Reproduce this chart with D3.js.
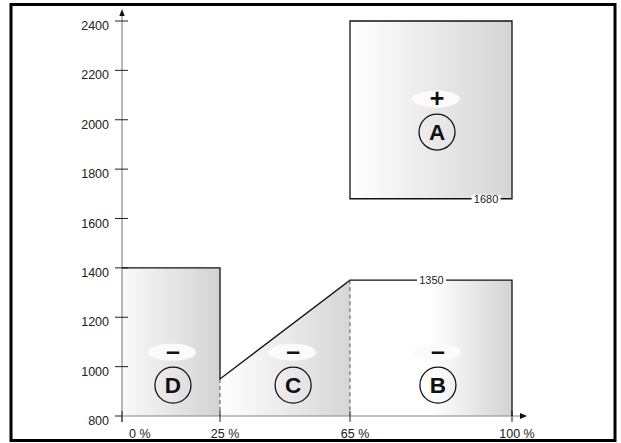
<!DOCTYPE html>
<html>
<head>
<meta charset="utf-8">
<script src="https://cdn.jsdelivr.net/npm/d3@7"></script>
<style>
  body { margin: 0; background: #fff; }
  svg { display: block; font-family: 'Liberation Sans', Arial, sans-serif; }
</style>
</head>
<body>
<svg width="621" height="443"></svg>
<script>
// The data:
var yTicks = [800, 1000, 1200, 1400, 1600, 1800, 2000, 2200, 2400]
var xTicks = [0, 25, 65, 100]
var xTickLabels = ['0 %', '25 %', '65 %', '100 %']

// zones as [percent, value] corners
var zoneD = [[0, 800], [0, 1400], [25, 1400], [25, 800]]
var zoneC = [[25, 800], [25, 950], [65, 1350], [65, 800]]
var zoneB = [[65, 800], [65, 1350], [100, 1350], [100, 800]]
var zoneA = [[65, 1680], [65, 2400], [100, 2400], [100, 1680]]

// solid outline and dashed drops
var outline1 = [[0, 1400], [25, 1400], [25, 950], [65, 1350], [100, 1350], [100, 800]]
var drops = [[[25, 950], [25, 800]], [[65, 1350], [65, 800]]]

// value labels on the edges
var valueLabels = [
  { text: '1350', pct: 82.6, value: 1350 },
  { text: '1680', pct: 94.4, value: 1680 },
]

// zone markers: letter in circle, sign above
var markers = [
  { letter: 'A', sign: '+', pct: 83.8, value: 1950 },
  { letter: 'B', sign: '\u2013', pct: 84, value: 925 },
  { letter: 'C', sign: '\u2013', pct: 47.5, value: 925 },
  { letter: 'D', sign: '\u2013', pct: 13, value: 925 },
]

const svg = d3.select('svg')

// scales (x axis is schematic, not to scale):
let xScale = d3.scaleLinear().domain(xTicks).range([122, 220, 350, 512])
let yScale = d3.scaleLinear().domain([800, 2400]).range([416, 21])

// gradients:
const defs = svg.append('defs')
const grad = (id, stops) => {
  let g = defs.append('linearGradient').attr('id', id)
    .attr('x1', 0).attr('x2', 1).attr('y1', 0).attr('y2', 0)
  stops.forEach((s) => g.append('stop').attr('offset', s[0]).attr('stop-color', s[1]))
}
grad('gD', [[0, '#f9f9f9'], [1, '#d3d3d3']])
grad('gC', [[0, '#ffffff'], [1, '#d6d6d6']])
grad('gB', [[0, '#ffffff'], [0.5, '#ffffff'], [1, '#d3d3d3']])
grad('gA', [[0, '#ffffff'], [1, '#d5d5d5']])

const line = d3.line().x((d) => xScale(d[0])).y((d) => yScale(d[1]))

// frame:
svg.append('rect').attr('x', 11).attr('y', 4.5).attr('width', 604).attr('height', 436)
  .attr('fill', 'none').attr('stroke', '#000').attr('stroke-width', 3)

// zone fills:
svg.selectAll('path.zone')
  .data([[zoneD, 'gD'], [zoneC, 'gC'], [zoneB, 'gB'], [zoneA, 'gA']])
  .enter()
  .append('path')
  .attr('class', 'zone')
  .attr('d', (d) => line(d[0]) + 'Z')
  .attr('fill', (d) => 'url(#' + d[1] + ')')

// axes:
svg.append('line').attr('x1', xScale(0)).attr('x2', xScale(0))
  .attr('y1', yScale(800) + 6).attr('y2', 15).attr('stroke', '#888').attr('stroke-width', 1.2)
svg.append('path').attr('d', 'M122,9 L119.3,16 L124.7,16 Z').attr('fill', '#111')
svg.append('line').attr('x1', xScale(0)).attr('x2', 521)
  .attr('y1', yScale(800)).attr('y2', yScale(800)).attr('stroke', '#888').attr('stroke-width', 1.2)
svg.append('path').attr('d', 'M527,416 L520,413 L520,419 Z').attr('fill', '#111')

// y ticks:
let yAxisG = svg.append('g')
yAxisG.selectAll('line').data(yTicks).enter().append('line')
  .attr('x1', xScale(0) - 7).attr('x2', (d) => d == 800 ? xScale(0) : xScale(0) + 6)
  .attr('y1', (d) => yScale(d)).attr('y2', (d) => yScale(d))
  .attr('stroke', '#222').attr('stroke-width', 1)
yAxisG.selectAll('text').data(yTicks).enter().append('text')
  .attr('x', xScale(0) - 13).attr('y', (d) => yScale(d) + 9)
  .attr('text-anchor', 'end').attr('font-size', 12.5).attr('fill', '#222')
  .text((d) => d)

// x ticks:
let xAxisG = svg.append('g')
xAxisG.selectAll('line').data(xTicks).enter().append('line')
  .attr('x1', (d) => xScale(d)).attr('x2', (d) => xScale(d))
  .attr('y1', yScale(800) - 5).attr('y2', yScale(800) + 6)
  .attr('stroke', '#222').attr('stroke-width', 1)
xAxisG.selectAll('text').data(xTicks).enter().append('text')
  .attr('x', (d) => d == 0 ? xScale(d) + 7 : xScale(d) + 5)
  .attr('y', 437.5)
  .attr('text-anchor', (d) => d == 0 ? 'start' : 'middle')
  .attr('font-size', 12.5).attr('fill', '#222')
  .text((d, i) => xTickLabels[i])

// outlines:
svg.append('path').attr('d', line(outline1)).attr('fill', 'none')
  .attr('stroke', '#111').attr('stroke-width', 1.3)
svg.append('path').attr('d', line(zoneA) + 'Z').attr('fill', 'none')
  .attr('stroke', '#111').attr('stroke-width', 1.3)
svg.selectAll('path.drop').data(drops).enter().append('path')
  .attr('class', 'drop').attr('d', (d) => line(d)).attr('fill', 'none')
  .attr('stroke', '#555').attr('stroke-width', 1).attr('stroke-dasharray', '4,3')

// value labels with white gap:
let vl = svg.selectAll('g.vlabel').data(valueLabels).enter().append('g')
  .attr('class', 'vlabel')
  .attr('transform', (d) => 'translate(' + xScale(d.pct) + ',' + yScale(d.value) + ')')
vl.append('rect').attr('x', -14.5).attr('y', -4).attr('width', 29).attr('height', 8).attr('fill', '#fff')
vl.append('text').attr('y', 4).attr('text-anchor', 'middle').attr('font-size', 11)
  .attr('fill', '#222').text((d) => d.text)

// markers:
let mk = svg.selectAll('g.marker').data(markers).enter().append('g')
  .attr('class', 'marker')
  .attr('transform', (d) => 'translate(' + xScale(d.pct) + ',' + yScale(d.value) + ')')
mk.append('ellipse').attr('cx', -1).attr('cy', -33).attr('rx', 24).attr('ry', 8.5).attr('fill', '#fbfbfb')
mk.append('text').attr('y', -25.5).attr('text-anchor', 'middle').attr('font-size', 25)
  .attr('font-weight', 'bold').attr('fill', '#111').text((d) => d.sign)
mk.append('circle').attr('r', 18).attr('fill', 'none').attr('stroke', '#111').attr('stroke-width', 1.3)
mk.append('text').attr('y', 8).attr('text-anchor', 'middle').attr('font-size', 22.5)
  .attr('font-weight', 'bold').attr('fill', '#111').text((d) => d.letter)
</script>
</body>
</html>
